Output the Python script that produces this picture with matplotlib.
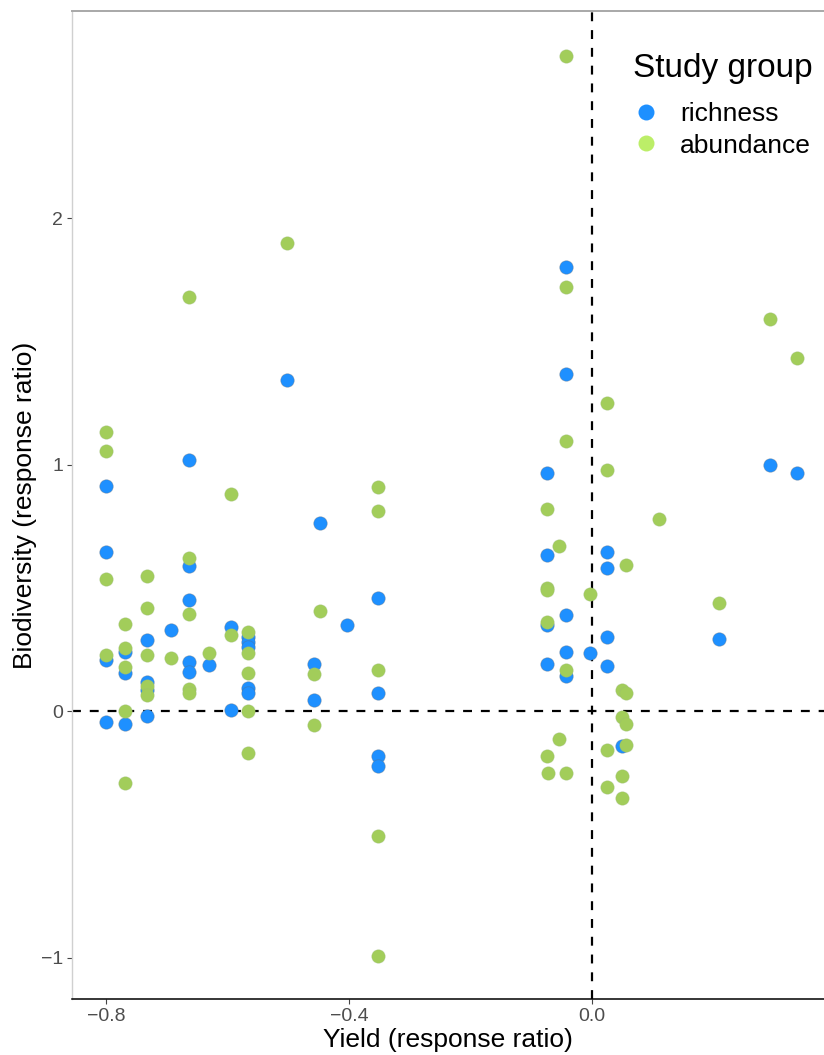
import matplotlib
matplotlib.use("Agg")
import matplotlib.pyplot as plt
from matplotlib.lines import Line2D

plt.rcParams['font.family'] = ['Liberation Sans', 'DejaVu Sans']

# richness studies (blue)
rich_x = [-0.80, -0.80, -0.80, -0.80,
          -0.768, -0.768, -0.768,
          -0.732, -0.732, -0.732, -0.732,
          -0.693,
          -0.663, -0.663, -0.663, -0.663, -0.663,
          -0.63,
          -0.594, -0.594,
          -0.567, -0.567, -0.567, -0.567, -0.567,
          -0.502,
          -0.457, -0.457,
          -0.448,
          -0.404,
          -0.352, -0.352, -0.352, -0.352,
          -0.074, -0.074, -0.074, -0.074,
          -0.042, -0.042, -0.042, -0.042, -0.042,
          -0.004,
          0.025, 0.025, 0.025, 0.025,
          0.049,
          0.209,
          0.293,
          0.337]
rich_y = [0.913, 0.645, 0.207, -0.045,
          0.24, 0.153, -0.053,
          0.288, 0.119, 0.085, -0.02,
          0.33,
          1.02, 0.59, 0.45, 0.20, 0.16,
          0.187,
          0.34, 0.005,
          0.30, 0.28, 0.26, 0.095, 0.075,
          1.343,
          0.193, 0.045,
          0.763,
          0.35,
          0.457, 0.073, -0.181, -0.221,
          0.967, 0.633, 0.349, 0.193,
          1.803, 1.366, 0.389, 0.238, 0.142,
          0.234,
          0.646, 0.581, 0.30, 0.183,
          -0.142,
          0.293,
          0.998,
          0.967]

# abundance studies (green)
abund_x = [-0.80, -0.80, -0.80, -0.80,
           -0.768, -0.768, -0.768, -0.768, -0.768,
           -0.732, -0.732, -0.732, -0.732, -0.732,
           -0.693,
           -0.663, -0.663, -0.663, -0.663, -0.663,
           -0.63,
           -0.594, -0.594,
           -0.567, -0.567, -0.567, -0.567, -0.567,
           -0.502,
           -0.457, -0.457,
           -0.448,
           -0.352, -0.352, -0.352, -0.352, -0.352,
           -0.074, -0.074, -0.074, -0.074, -0.074,
           -0.072,
           -0.054, -0.054,
           -0.042, -0.042, -0.042, -0.042, -0.042,
           -0.004,
           0.025, 0.025, 0.025, 0.025,
           0.050, 0.050, 0.050, 0.050,
           0.056, 0.056, 0.056, 0.056,
           0.110,
           0.209,
           0.293,
           0.337]
abund_y = [1.132, 1.055, 0.536, 0.227,
           0.353, 0.255, 0.18, 0.0, -0.29,
           0.548, 0.42, 0.227, 0.10, 0.065,
           0.216,
           1.68, 0.62, 0.395, 0.09, 0.075,
           0.237,
           0.88, 0.31,
           0.32, 0.235, 0.155, 0.0, -0.17,
           1.90,
           0.152, -0.056,
           0.404,
           0.907, 0.813, 0.166, -0.505, -0.992,
           0.818, 0.498, 0.49, 0.36, -0.183,
           -0.25,
           0.669, -0.115,
           2.657, 1.719, 1.097, 0.166, -0.25,
           0.475,
           1.248, 0.978, -0.156, -0.307,
           0.085, -0.023, -0.264, -0.354,
           0.591, 0.074, -0.053, -0.138,
           0.78,
           0.44,
           1.590,
           1.433]

groups = ['richness', 'abundance']
x_ticks = [-0.8, -0.4, 0.0]
x_tick_labels = ['\u22120.8', '\u22120.4', '0.0']
y_ticks = [-1, 0, 1, 2]
y_tick_labels = ['\u22121', '0', '1', '2']

blue = '#1E90FF'
green = '#A2CD5A'
green_legend = '#BCEE68'

fig = plt.figure(figsize=(8.24, 10.55), dpi=100)
ax = fig.add_axes([72 / 824, 56 / 1055, 752 / 824, 988 / 1055])

ax.axhline(0, color='black', lw=1.6, ls=(0, (4, 4)), zorder=1)
ax.axvline(0, color='black', lw=1.6, ls=(0, (4, 4)), zorder=1)

ax.scatter(rich_x, rich_y, s=95, color=blue, edgecolors=(0.4, 0.4, 0.4, 0.35),
           linewidths=0.6, zorder=3)
ax.scatter(abund_x, abund_y, s=95, color=green, edgecolors=(0.6, 0.7, 0.5, 0.3),
           linewidths=0.6, zorder=3)

ax.set_xlim(-0.856, 0.382)
ax.set_ylim(-1.168, 2.84)

ax.set_xticks(x_ticks)
ax.set_xticklabels(x_tick_labels)
ax.set_yticks(y_ticks)
ax.set_yticklabels(y_tick_labels)
ax.tick_params(axis='both', length=3.5, width=0.8, color='#444444',
               labelcolor='#4d4d4d', labelsize=14, pad=3)

ax.spines['right'].set_visible(False)
ax.spines['top'].set_color('#a8a8a8')
ax.spines['top'].set_linewidth(1.4)
ax.spines['left'].set_color('#d0d0d0')
ax.spines['left'].set_linewidth(1.0)
ax.spines['bottom'].set_color('black')
ax.spines['bottom'].set_linewidth(1.1)

ax.set_xlabel('Yield (response ratio)', fontsize=19, labelpad=2)
ax.set_ylabel('Biodiversity (response ratio)', fontsize=19, labelpad=3)

handles = [Line2D([], [], marker='o', ls='', markersize=11.5, color=blue,
                  markeredgewidth=0),
           Line2D([], [], marker='o', ls='', markersize=11.5, color=green_legend,
                  markeredgewidth=0)]
leg = ax.legend(handles, groups, title='Study group', loc='upper left',
                bbox_to_anchor=(0.732, 0.968), frameon=False, fontsize=19,
                title_fontsize=24, handletextpad=0.78, labelspacing=0.28,
                borderaxespad=0, handlelength=1.0)
leg._legend_box.align = 'left'
leg._legend_box.sep = 13

fig.savefig('out.png', dpi=100)
